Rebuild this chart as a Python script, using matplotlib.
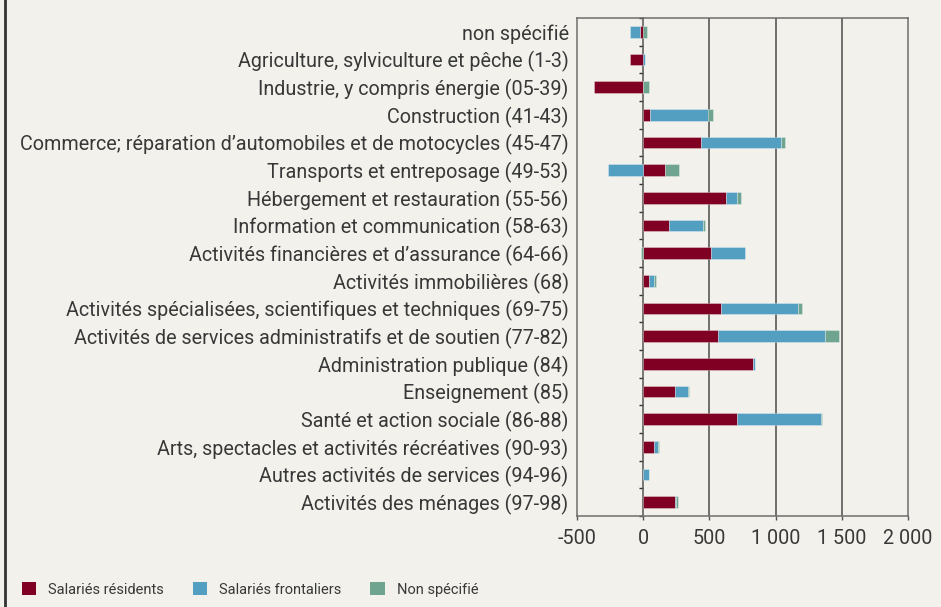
import numpy as np
import matplotlib
matplotlib.use("Agg")
import matplotlib.pyplot as plt
from matplotlib.lines import Line2D
from matplotlib.patches import Patch
from matplotlib.ticker import FuncFormatter

# Secteurs (de haut en bas)
categories = [
    "non spécifié",
    "Agriculture, sylviculture et pêche (1-3)",
    "Industrie, y compris énergie (05-39)",
    "Construction (41-43)",
    "Commerce; réparation d\u2019automobiles et de motocycles (45-47)",
    "Transports et entreposage (49-53)",
    "Hébergement et restauration (55-56)",
    "Information et communication (58-63)",
    "Activités financières et d\u2019assurance (64-66)",
    "Activités immobilières (68)",
    "Activités spécialisées, scientifiques et techniques (69-75)",
    "Activités de services administratifs et de soutien (77-82)",
    "Administration publique (84)",
    "Enseignement (85)",
    "Santé et action sociale (86-88)",
    "Arts, spectacles et activités récréatives (90-93)",
    "Autres activités de services (94-96)",
    "Activités des ménages (97-98)",
]

residents = [-25, -100, -368, 53, 437, 164, 629, 192, 515, 43, 586, 563, 831, 242, 712, 78, 0, 242]
frontaliers = [-76, 15, 0, 434, 603, -265, 78, 260, 255, 35, 583, 813, 15, 98, 629, 35, 43, 8]
non_specifie = [30, 0, 45, 40, 28, 109, 30, 13, -15, 18, 33, 104, 0, 5, 10, 5, 0, 15]

series_names = ["Salariés résidents", "Salariés frontaliers", "Non spécifié"]
colors = ["#7f0022", "#529fc2", "#6fa590"]

BG = "#f2f1eb"
TXT = "#383838"


def fmt_thousands(x, pos):
    return f"{int(x):,}".replace(",", " ")


def main():
    plt.rcParams["font.family"] = ["Roboto", "DejaVu Sans"]
    fig = plt.figure(figsize=(9.41, 6.07), dpi=100, facecolor=BG)
    ax = fig.add_axes([0.6132, 0.1499, 0.9649 - 0.6132, 0.9703 - 0.1499])
    ax.set_facecolor(BG)

    y = np.arange(len(categories))
    pos_left = np.zeros(len(categories))
    neg_left = np.zeros(len(categories))
    for vals, col in zip([residents, frontaliers, non_specifie], colors):
        vals = np.array(vals, dtype=float)
        left = np.where(vals >= 0, pos_left, neg_left)
        ax.barh(y, vals, left=left, height=0.42, color=col,
                edgecolor=(1, 1, 1, 0.35), linewidth=0.6, zorder=3)
        pos_left += np.where(vals > 0, vals, 0)
        neg_left += np.where(vals < 0, vals, 0)

    ax.set_xlim(-500, 2000)
    ax.set_ylim(len(categories) - 0.5, -0.5)
    ax.set_xticks([-500, 0, 500, 1000, 1500, 2000])
    ax.xaxis.set_major_formatter(FuncFormatter(fmt_thousands))
    for v in [500, 1000, 1500]:
        ax.axvline(v, color="#4a4a4a", lw=1.1, zorder=1)

    ax.set_yticks(y)
    ax.set_yticklabels(categories)
    ax.tick_params(axis="y", length=0, pad=6, labelsize=14.2, labelcolor=TXT)
    ax.tick_params(axis="x", length=3, width=1, color="#555555", pad=6,
                   labelsize=14.2, labelcolor=TXT, direction="out")
    for s in ax.spines.values():
        s.set_color("#6e6e6e")
        s.set_linewidth(1.1)

    # axe vertical à zéro avec petites graduations entre catégories
    sec = ax.secondary_yaxis(0.2)
    sec.set_yticks(np.arange(len(categories) + 1) - 0.5)
    sec.set_yticklabels([])
    sec.tick_params(length=3, width=1, color="#333333", direction="out")
    sec.spines["left"].set_color("#555555")
    sec.spines["left"].set_linewidth(1.1)

    # bordure gauche
    fig.add_artist(Line2D([0.0058, 0.0058], [0, 1], transform=fig.transFigure,
                          color="#333333", lw=2))

    handles = [Patch(facecolor=c, edgecolor="none") for c in colors]
    fig.legend(handles, series_names, loc="lower left",
               bbox_to_anchor=(0.009, -0.005), ncol=3, frameon=False,
               fontsize=10.5, handlelength=1.0, handleheight=1.0,
               handletextpad=0.8, columnspacing=2.0, labelcolor=TXT)

    fig.savefig("out.png", dpi=100, facecolor=BG)


if __name__ == "__main__":
    main()
